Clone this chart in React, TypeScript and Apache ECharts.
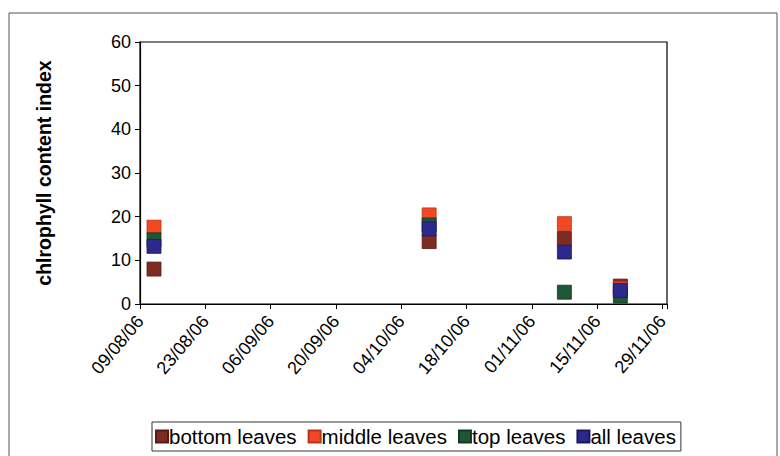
import React, { useEffect, useRef } from "react";
import * as echarts from "echarts";

const baseDate = "2006-08-09";
const axisMaxDays = 113;
const tickDays = 14;
const dates = ["2006-08-12", "2006-10-10", "2006-11-08", "2006-11-20"];
const bottomLeaves = [8.0, 14.3, 15.0, 4.1];
const middleLeaves = [17.6, 20.4, 18.4, 3.5];
const topLeaves = [14.7, 18.1, 2.7, 1.8];
const allLeaves = [13.2, 17.2, 11.9, 3.1];
const seriesNames = ["bottom leaves", "middle leaves", "top leaves", "all leaves"];
const seriesColors = ["#7e2b22", "#f44824", "#1f5636", "#2b2a8c"];
const seriesBorders = ["#5a1a14", "#b8331a", "#123a22", "#1a1960"];

const DAY = 86400000;
const base = Date.parse(baseDate + "T00:00:00Z");
const toDays = (d: string) => Math.round((Date.parse(d + "T00:00:00Z") - base) / DAY);
const pad = (n: number) => (n < 10 ? "0" + n : "" + n);
const fmt = (v: number) => {
  const d = new Date(base + v * DAY);
  return pad(d.getUTCDate()) + "/" + pad(d.getUTCMonth() + 1) + "/" + pad(d.getUTCFullYear() % 100);
};

export default function App() {
  const ref = useRef<HTMLDivElement>(null);
  useEffect(() => {
    if (!ref.current) return;
    const chart = echarts.init(ref.current, null, { renderer: "svg" });
    const all = [bottomLeaves, middleLeaves, topLeaves, allLeaves];
    chart.setOption({
      animation: false,
      backgroundColor: "#ffffff",
      textStyle: { fontFamily: "Liberation Sans, Arial, sans-serif" },
      graphic: [
        {
          type: "rect",
          shape: { x: 9, y: 13, width: 768, height: 460 },
          style: { fill: "none", stroke: "#555", lineWidth: 1 },
          silent: true,
        },
      ],
      grid: {
        left: 140,
        top: 42,
        right: 113,
        bottom: 152,
        show: true,
        borderColor: "#000",
        borderWidth: 1.2,
        backgroundColor: "transparent",
      },
      legend: {
        left: 152,
        top: 422,
        data: seriesNames,
        icon: "rect",
        itemWidth: 12,
        itemHeight: 12,
        itemGap: 11,
        padding: [4, 5, 4, 3],
        borderColor: "#333",
        borderWidth: 1,
        textStyle: { fontSize: 20.5, color: "#000", padding: [0, 0, 0, -4] },
      },
      xAxis: {
        type: "value",
        min: 0,
        max: axisMaxDays,
        interval: tickDays,
        axisLine: { show: true, lineStyle: { color: "#000", width: 1.2 } },
        axisTick: { show: true, length: 5, lineStyle: { color: "#000" } },
        splitLine: { show: false },
        axisLabel: {
          rotate: 50,
          fontSize: 18,
          color: "#000",
          margin: 14,
          showMaxLabel: true,
          formatter: (v: number) => (v % tickDays === 0 ? fmt(v) : ""),
        },
      },
      yAxis: {
        type: "value",
        min: 0,
        max: 60,
        interval: 10,
        name: "chlrophyll content index",
        nameLocation: "middle",
        nameGap: 86,
        nameTextStyle: { fontSize: 19.5, fontWeight: "bold", color: "#000" },
        axisLine: { show: true, lineStyle: { color: "#000", width: 1.2 } },
        axisTick: { show: true, length: 5, lineStyle: { color: "#000" } },
        splitLine: { show: false },
        axisLabel: { fontSize: 18, color: "#000", margin: 9 },
      },
      series: seriesNames.map((name, i) => ({
        name,
        type: "scatter",
        symbol: "rect",
        symbolSize: 14,
        itemStyle: { color: seriesColors[i], borderColor: seriesBorders[i], borderWidth: 0.8, opacity: 1 },
        data: dates.map((d, j) => [toDays(d), all[i][j]]),
      })),
    });
    return () => chart.dispose();
  }, []);
  return <div ref={ref} style={{ width: 780, height: 456, position: "absolute", left: 0, top: 0 }} />;
}
